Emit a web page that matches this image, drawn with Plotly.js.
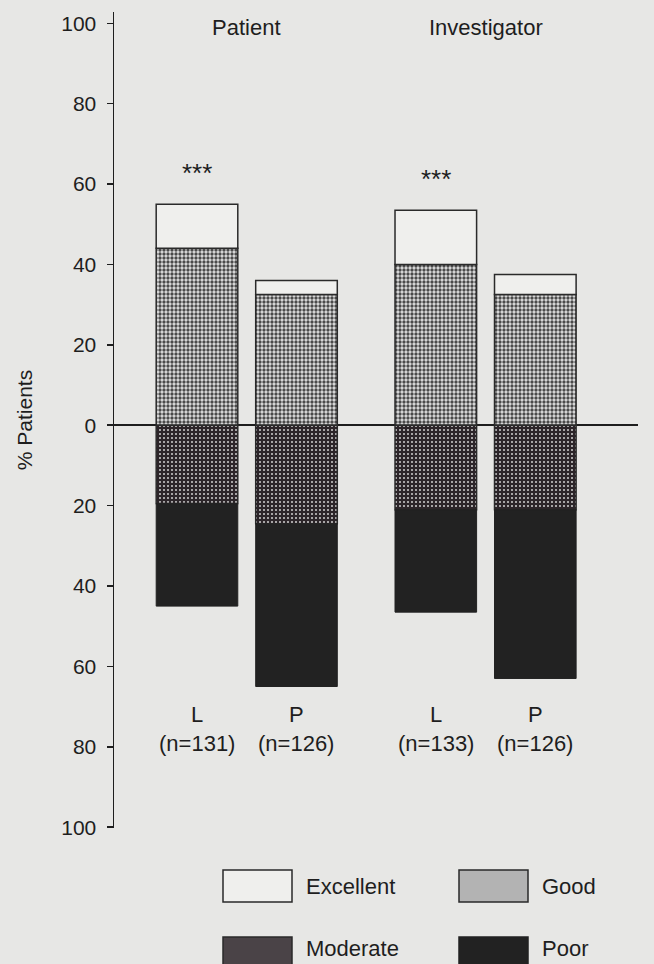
<!DOCTYPE html>
<html>
<head>
<meta charset="utf-8">
<script src="https://cdn.plot.ly/plotly-3.0.1.min.js"></script>
<style>
  html, body { margin: 0; padding: 0; background: #e7e7e5; }
  #chart { width: 654px; height: 964px; }
</style>
</head>
<body>
<div id="chart"></div>
<script>
// ---- data ----
const groups = ['Patient', 'Investigator'];
const treatments = ['L', 'P', 'L', 'P'];
const nLabels = ['(n=131)', '(n=126)', '(n=133)', '(n=126)'];
const xPos = [0, 1, 2.4, 3.4];            // bar slots (two pairs with a wider gap)
const groupPos = [0.5, 2.9];              // centre of each pair
const excellent = [11, 3.5, 13.5, 5];
const good = [44, 32.5, 40, 32.5];
const moderate = [19.5, 24.5, 21, 21];
const poor = [25.5, 40.5, 25.5, 42];
const stars = ['***', '', '***', ''];
const yTicks = [-100, -80, -60, -40, -20, 0, 20, 40, 60, 80, 100];
const legendNames = ['Excellent', 'Good', 'Moderate', 'Poor'];

const FONT = 'Liberation Sans, Arial, Helvetica, sans-serif';
const INK = '#1e1e1e';
const OUT = '#2a2a2a';

const fills = {
  Excellent: '#efefed',
  Good: '#b3b3b3',
  Moderate: '#4a4347',
  Poor: '#222222'
};

const traces = [
  {
    type: 'bar', name: 'Good', x: xPos, y: good, width: 0.82,
    marker: {
      color: '#d0d0d0',
      line: { color: OUT, width: 1.5 },
      pattern: { shape: '.', size: 4, solidity: 0.55, fgcolor: '#4a4a4a', bgcolor: '#e2e2e2', fillmode: 'replace' }
    }
  },
  {
    type: 'bar', name: 'Excellent', x: xPos, y: excellent, width: 0.82,
    marker: { color: fills.Excellent, line: { color: OUT, width: 1.5 } }
  },
  {
    type: 'bar', name: 'Moderate', x: xPos, y: moderate.map(v => -v), width: 0.82,
    marker: {
      color: '#3a3236',
      line: { color: OUT, width: 1.5 },
      pattern: { shape: '.', size: 4, solidity: 0.2, fgcolor: '#d0d0d0', bgcolor: '#2c2529', fillmode: 'replace' }
    }
  },
  {
    type: 'bar', name: 'Poor', x: xPos, y: poor.map(v => -v), width: 0.82,
    marker: { color: fills.Poor, line: { color: fills.Poor, width: 1 } }
  }
];

// pixel helpers for the hand-drawn legend (plot area: x 114..638, y 12..828)
const L = 114, R = 16, T = 12, B = 136, W = 654, H = 964;
const pw = W - L - R, ph = H - T - B;
const px = v => (v - L) / pw;
const py = v => (H - B - v) / ph;

const annotations = [];
// group titles
groups.forEach((g, i) => annotations.push({
  x: groupPos[i], y: 99, xref: 'x', yref: 'y', text: g, showarrow: false,
  font: { family: FONT, size: 22, color: INK }, xanchor: 'center', yanchor: 'middle'
}));
// significance stars
stars.forEach((s, i) => {
  if (!s) return;
  const top = good[i] + excellent[i];
  annotations.push({
    x: xPos[i], y: top, xref: 'x', yref: 'y', text: s, showarrow: false,
    font: { family: FONT, size: 26, color: INK }, xanchor: 'center', yanchor: 'bottom', yshift: 14
  });
});
// category labels
treatments.forEach((t, i) => annotations.push({
  x: xPos[i], y: -75.6, xref: 'x', yref: 'y', text: t + '<br>' + nLabels[i], showarrow: false,
  font: { family: FONT, size: 22, color: INK }, xanchor: 'center', yanchor: 'middle'
}));

// legend (2 x 2 grid)
const legCols = [223, 459], legRows = [870, 937], boxW = 69, boxH = 32;
const textRows = [886, 949];
const shapes = [];
legendNames.forEach((name, i) => {
  const col = i % 2, row = Math.floor(i / 2);
  const cx = legCols[col], cy = legRows[row];
  shapes.push({
    type: 'rect', xref: 'paper', yref: 'paper',
    x0: px(cx), x1: px(cx + boxW), y0: py(cy + boxH), y1: py(cy),
    fillcolor: fills[name], line: { color: name === 'Poor' ? fills.Poor : OUT, width: 1.5 }
  });
  annotations.push({
    x: px(cx + boxW + 13), y: py(textRows[row]), xref: 'paper', yref: 'paper',
    text: name, showarrow: false, xanchor: 'left', yanchor: 'middle', borderpad: 0,
    font: { family: FONT, size: 22, color: INK }
  });
});

const layout = {
  width: W, height: H,
  margin: { l: L, r: R, t: T, b: B, pad: 0 },
  paper_bgcolor: '#e7e7e5',
  plot_bgcolor: 'rgba(0,0,0,0)',
  barmode: 'relative',
  showlegend: false,
  font: { family: FONT, color: INK },
  xaxis: {
    range: [-0.834, 4.432], visible: false, fixedrange: true
  },
  yaxis: {
    range: [-100.2, 102.8],
    tickvals: yTicks,
    ticktext: yTicks.map(v => String(Math.abs(v))),
    ticks: 'outside', ticklen: 6, tickwidth: 1.5, tickcolor: INK,
    ticklabelstandoff: 6,
    showline: true, linecolor: INK, linewidth: 1.5,
    showgrid: false,
    zeroline: true, zerolinecolor: INK, zerolinewidth: 2,
    tickfont: { family: FONT, size: 21, color: INK },
    title: { text: '% Patients', font: { family: FONT, size: 21, color: INK }, standoff: 23 }
  },
  annotations: annotations,
  shapes: shapes
};

Plotly.newPlot('chart', traces, layout, { staticPlot: true, displayModeBar: false });
</script>
</body>
</html>
